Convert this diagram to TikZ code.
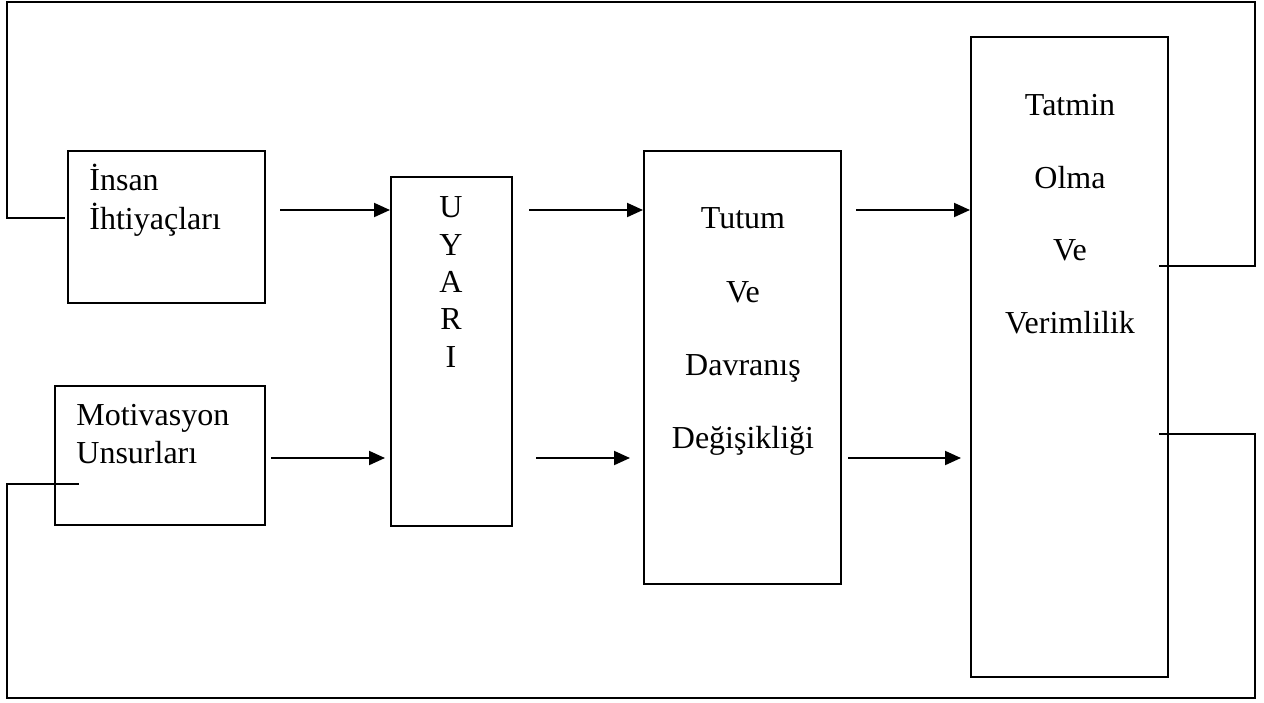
\documentclass[tikz,border=0pt]{standalone}
\usepackage{fontspec}
\setmainfont{Liberation Serif}
\usetikzlibrary{arrows.meta,fit}
\begin{document}
\begin{tikzpicture}[x=0.5pt,y=-0.5pt,
  box/.style={draw, line width=1pt, inner sep=0pt},
  lbl/.style={font=\fontsize{16}{19}\selectfont, inner sep=0pt},
  arr/.style={line width=1pt, -{Triangle[length=8pt,width=7pt]}},
  fb/.style={line width=1pt}]
\useasboundingbox (0,0) rectangle (1264,702);

% boxes
\node[box, fit={(68,151)(265,303)}] (insan) {};
\node[box, fit={(55,386)(265,525)}] (motiv) {};
\node[box, fit={(391,177)(512,526)}] (uyari) {};
\node[box, fit={(644,151)(841,584)}] (tutum) {};
\node[box, fit={(971,37)(1168,677)}] (tatmin) {};

% texts
\node[lbl, anchor=base west] (i1) at (89,190) {İnsan};
\node[lbl, anchor=base west] (i2) at (89,229) {İhtiyaçları};
\node[lbl, anchor=base west] (m1) at (76,425) {Motivasyon};
\node[lbl, anchor=base west] (m2) at (76,463) {Unsurları};

\node[lbl, anchor=base] (u1) at (451,217) {U};
\node[lbl, anchor=base] (u2) at (451,255) {Y};
\node[lbl, anchor=base] (u3) at (451,292) {A};
\node[lbl, anchor=base] (u4) at (451,329) {R};
\node[lbl, anchor=base] (u5) at (451,367) {I};

\node[lbl, anchor=base] (d1) at (743,228) {Tutum};
\node[lbl, anchor=base] (d2) at (743,302) {Ve};
\node[lbl, anchor=base] (d3) at (743,375) {Davranış};
\node[lbl, anchor=base] (d4) at (743,448) {Değişikliği};

\node[lbl, anchor=base] (s1) at (1070,115) {Tatmin};
\node[lbl, anchor=base] (s2) at (1070,188) {Olma};
\node[lbl, anchor=base] (s3) at (1070,260) {Ve};
\node[lbl, anchor=base] (s4) at (1070,333) {Verimlilik};

% arrows
\draw[arr, shorten <=7pt] (insan.east |- 0,210) -- (uyari.west |- 0,210);
\draw[arr, shorten <=2.5pt, shorten >=2.5pt] (motiv.east |- 0,458) -- (uyari.west |- 0,458);
\draw[arr, shorten <=8pt] (uyari.east |- 0,210) -- (tutum.west |- 0,210);
\draw[arr, shorten <=11.5pt, shorten >=6.5pt] (uyari.east |- 0,458) -- (tutum.west |- 0,458);
\draw[arr, shorten <=7pt] (tutum.east |- 0,210) -- (tatmin.west |- 0,210);
\draw[arr, shorten <=3pt, shorten >=4.5pt] (tutum.east |- 0,458) -- (tatmin.west |- 0,458);

% feedback loops
\coordinate (fbA) at (1159,266);
\coordinate (fbB) at (65,218);
\coordinate (fbC) at (1159,434);
\coordinate (fbD) at (79,484);
\draw[fb] (fbA) -- (1255,266) -- (1255,2) -- (7,2) -- (7,218) -- (fbB);
\draw[fb] (fbC) -- (1255,434) -- (1255,698) -- (7,698) -- (7,484) -- (fbD);
\end{tikzpicture}
\end{document}
